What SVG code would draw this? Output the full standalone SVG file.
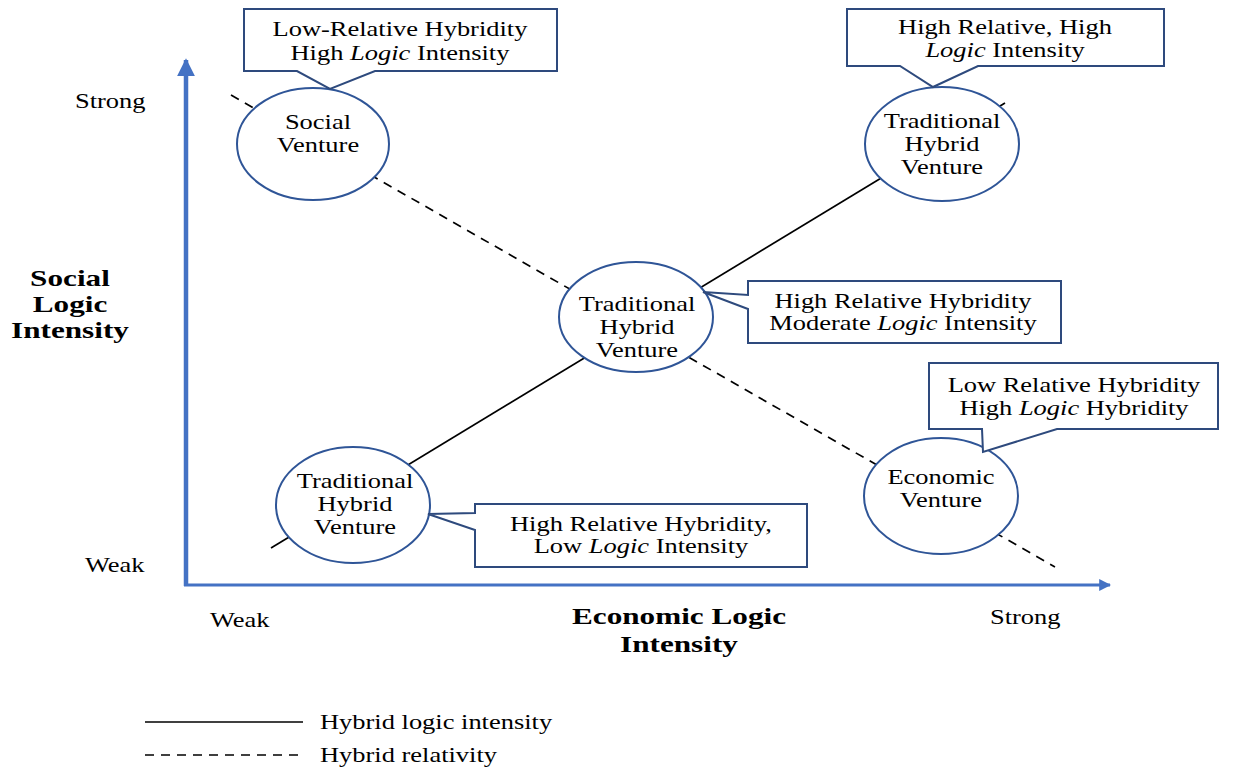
<svg xmlns="http://www.w3.org/2000/svg" width="1236" height="767" viewBox="0 0 1236 767">
<style>
text{font-family:"Liberation Serif","Times New Roman",serif;font-size:21px;fill:#000;transform:scaleX(1.26);transform-box:fill-box;transform-origin:center;}
.l{transform-origin:left center;}
.c{text-anchor:middle;}
.b{font-weight:bold;font-size:24px;transform:scaleX(1.3);}
.node{fill:#fff;stroke:#2F5597;stroke-width:2;}
.call{fill:#fff;stroke:#2E4A7D;stroke-width:2;}
.solid{stroke:#000;stroke-width:1.7;fill:none;}
.dash{stroke:#000;stroke-width:1.7;fill:none;stroke-dasharray:9 7;}
.axis{stroke:#4472C4;fill:none;}
</style>
<defs>
<marker id="ah" viewBox="0 0 10 10" refX="9" refY="5" markerWidth="4" markerHeight="4" orient="auto" markerUnits="strokeWidth">
<path d="M0,0 L10,5 L0,10 z" fill="#4472C4"/>
</marker>
</defs>
<rect width="1236" height="767" fill="#fff"/>
<g id="axes">
<line class="axis" x1="186" y1="586" x2="186" y2="60" stroke-width="4.5" marker-end="url(#ah)"/>
<line class="axis" x1="184" y1="585" x2="1110" y2="585" stroke-width="3" marker-end="url(#ah)"/>
<text class="l" x="75" y="108">Strong</text>
<text class="l" x="85" y="572">Weak</text>
<text class="l" x="210" y="627">Weak</text>
<text class="l" x="990" y="624">Strong</text>
<text class="c b" x="70" y="286">Social</text>
<text class="c b" x="70" y="312">Logic</text>
<text class="c b" x="70" y="338">Intensity</text>
<text class="c b" x="679" y="624">Economic Logic</text>
<text class="c b" x="679" y="652">Intensity</text>
</g>
<g id="connectors">
<line class="solid" x1="271" y1="548" x2="1005" y2="103"/>
<line class="dash" x1="231" y1="95" x2="1055" y2="567"/>
</g>
<g id="social-venture">
<ellipse class="node" cx="313" cy="144" rx="76" ry="56"/>
<text class="c" x="318" y="129">Social</text>
<text class="c" x="318" y="152">Venture</text>
</g>
<g id="hybrid-top">
<ellipse class="node" cx="942" cy="144" rx="77" ry="57"/>
<text class="c" x="942" y="128">Traditional</text>
<text class="c" x="942" y="151">Hybrid</text>
<text class="c" x="942" y="174">Venture</text>
</g>
<g id="hybrid-center">
<ellipse class="node" cx="636" cy="317" rx="77" ry="55"/>
<text class="c" x="637" y="311">Traditional</text>
<text class="c" x="637" y="334">Hybrid</text>
<text class="c" x="637" y="357">Venture</text>
</g>
<g id="hybrid-bottom">
<ellipse class="node" cx="353" cy="505" rx="77" ry="58"/>
<text class="c" x="355" y="488">Traditional</text>
<text class="c" x="355" y="511">Hybrid</text>
<text class="c" x="355" y="534">Venture</text>
</g>
<g id="economic-venture">
<ellipse class="node" cx="941" cy="496" rx="77" ry="58"/>
<text class="c" x="941" y="484">Economic</text>
<text class="c" x="941" y="507">Venture</text>
</g>
<g id="callout-social">
<path class="call" d="M244,9 H557 V71 H375 L330,89 L297,71 H244 Z"/>
<text class="c" x="400" y="36">Low-Relative Hybridity</text>
<text class="c" x="400" y="60">High <tspan font-style="italic">Logic</tspan> Intensity</text>
</g>
<g id="callout-top">
<path class="call" d="M847,9 H1164 V66 H978 L933,87 L900,66 H847 Z"/>
<text class="c" x="1005" y="34">High Relative, High</text>
<text class="c" x="1005" y="57"><tspan font-style="italic">Logic</tspan> Intensity</text>
</g>
<g id="callout-center">
<path class="call" d="M748,281 H1061 V343 H748 V309 L703,292 L748,295 Z"/>
<text class="c" x="903" y="308">High Relative Hybridity</text>
<text class="c" x="903" y="330">Moderate <tspan font-style="italic">Logic</tspan> Intensity</text>
</g>
<g id="callout-economic">
<path class="call" d="M929,363 H1218 V429 H1057 L983,452 L982,429 H929 Z"/>
<text class="c" x="1074" y="392">Low Relative Hybridity</text>
<text class="c" x="1074" y="415">High <tspan font-style="italic">Logic</tspan> Hybridity</text>
</g>
<g id="callout-bottom">
<path class="call" d="M475,504 H807 V567 H475 V530 L428,514 L475,513 Z"/>
<text class="c" x="641" y="531">High Relative Hybridity,</text>
<text class="c" x="641" y="553">Low <tspan font-style="italic">Logic</tspan> Intensity</text>
</g>
<g id="legend">
<line class="solid" x1="145" y1="722" x2="303" y2="722"/>
<text class="l" x="320" y="729">Hybrid logic intensity</text>
<line class="dash" x1="145" y1="755" x2="303" y2="755"/>
<text class="l" x="320" y="762">Hybrid relativity</text>
</g>
</svg>
